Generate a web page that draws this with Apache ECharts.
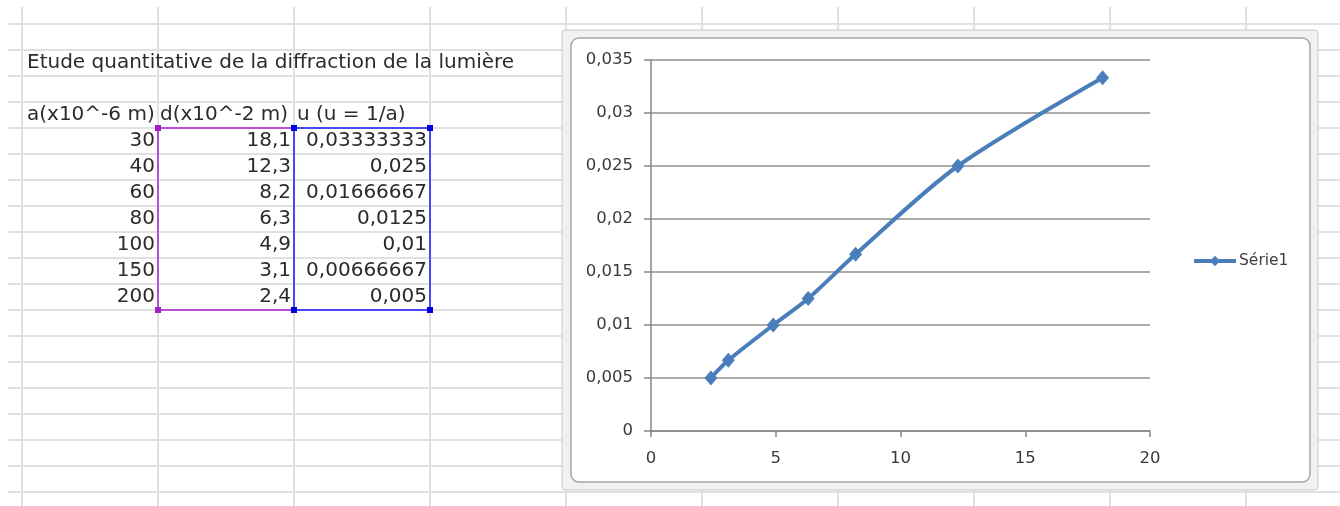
<!DOCTYPE html>
<html>
<head>
<meta charset="utf-8">
<script src="https://cdn.jsdelivr.net/npm/echarts@6/dist/echarts.min.js"></script>
<style>
  html, body { margin: 0; padding: 0; background: #fff; }
  #main { width: 1340px; height: 506px; }
</style>
</head>
<body>
<div id="main"></div>
<script>
// donnees du tableau
const title = 'Etude quantitative de la diffraction de la lumière';
const headers = ['a(x10^-6 m)', 'd(x10^-2 m)', 'u (u = 1/a)'];
const aVals = [30, 40, 60, 80, 100, 150, 200];
const dVals = [18.1, 12.3, 8.2, 6.3, 4.9, 3.1, 2.4];
const uVals = [0.03333333, 0.025, 0.01666667, 0.0125, 0.01, 0.00666667, 0.005];
const seriesName = 'Série1';

const fr = v => String(v).replace('.', ',');
const font = '"DejaVu Sans", Verdana, sans-serif';
const cellFont = '20px ' + font;

let chart = echarts.init(document.getElementById('main'));

// feuille excel (quadrillage)
let g = [];
for (let y = 24; y <= 506; y += 26) {
    g.push({ type: 'line', z: -20, shape: { x1: 8, y1: y, x2: 1340, y2: y }, style: { stroke: '#dfe1e3', lineWidth: 2 } });
}
for (let x = 22; x <= 1340; x += 136) {
    g.push({ type: 'line', z: -20, shape: { x1: x, y1: 7, x2: x, y2: 506 }, style: { stroke: '#dfe1e3', lineWidth: 2 } });
}

// titre + entetes
g.push({ type: 'text', z: -10, x: 27, y: 63, style: { text: title, font: cellFont, fill: '#2b2b2b', verticalAlign: 'middle' } });
const colLeft = [27, 160, 297];
headers.forEach((h, i) => {
    g.push({ type: 'text', z: -10, x: colLeft[i], y: 115, style: { text: h, font: cellFont, fill: '#2b2b2b', verticalAlign: 'middle' } });
});
const cols = [aVals, dVals, uVals];
const colRight = [155, 291, 427];
cols.forEach((vals, c) => {
    vals.forEach((v, r) => {
        g.push({ type: 'text', z: -10, x: colRight[c], y: 141 + r * 26, style: { text: fr(v), font: cellFont, fill: '#2b2b2b', align: 'right', verticalAlign: 'middle' } });
    });
});

// selection violette / bleue
g.push({ type: 'rect', z: -9, shape: { x: 158, y: 128, width: 136, height: 182 }, style: { fill: null, stroke: '#b94fd8', lineWidth: 2 } });
g.push({ type: 'rect', z: -9, shape: { x: 294, y: 128, width: 136, height: 182 }, style: { fill: null, stroke: '#4848f6', lineWidth: 2 } });
[[158, 128, '#a020c0'], [158, 310, '#a020c0'], [294, 128, '#0000e0'], [430, 128, '#0000e0'], [294, 310, '#0000e0'], [430, 310, '#0000e0']].forEach(p => {
    g.push({ type: 'rect', z: -8, shape: { x: p[0] - 3, y: p[1] - 3, width: 6, height: 6 }, style: { fill: p[2] } });
});

// cadre du graphique
g.push({ type: 'rect', z: -7, shape: { x: 562, y: 30, width: 756, height: 460, r: 3 }, style: { fill: '#f1f1f1', stroke: '#c9c9c9', lineWidth: 1 } });
g.push({ type: 'rect', z: -6, shape: { x: 571, y: 38, width: 739, height: 444, r: 8 }, style: { fill: '#fff', stroke: '#a5a5a5', lineWidth: 1.5 } });

chart.setOption({
    animation: false,
    backgroundColor: '#fff',
    graphic: { elements: g },
    legend: {
        left: 1192,
        top: 253,
        padding: 0,
        itemWidth: 42,
        itemHeight: 13,
        itemGap: 4,
        lineStyle: { width: 4 },
        textStyle: { fontFamily: font, fontSize: 15.5, color: '#404040', padding: [0, 0, 0, -2] },
        data: [seriesName]
    },
    grid: { left: 651, right: 190, top: 60, bottom: 75 },
    xAxis: {
        type: 'value',
        min: 0,
        max: 20,
        interval: 5,
        axisLine: { lineStyle: { color: '#868686', width: 1.5 } },
        axisTick: { show: true, length: 6, lineStyle: { color: '#868686', width: 1.5 } },
        axisLabel: { margin: 19, fontFamily: font, fontSize: 16.5, color: '#3a3a3a' },
        splitLine: { show: false }
    },
    yAxis: {
        type: 'value',
        min: 0,
        max: 0.035,
        interval: 0.005,
        axisLine: { show: true, lineStyle: { color: '#868686', width: 1.5 } },
        axisTick: { show: true, length: 7, lineStyle: { color: '#868686', width: 1.5 } },
        axisLabel: { margin: 18, fontFamily: font, fontSize: 16.5, color: '#3a3a3a', formatter: v => fr(v) },
        splitLine: { lineStyle: { color: '#8f8f8f', width: 1.5 } }
    },
    series: [{
        name: seriesName,
        type: 'line',
        smooth: 0.3,
        symbol: 'diamond',
        symbolSize: [13, 15],
        color: '#4a7ebb',
        lineStyle: { width: 4, color: '#4a7ebb' },
        itemStyle: { color: '#4a7ebb' },
        data: dVals.map((d, i) => [d, uVals[i]])
    }]
});
</script>
</body>
</html>
